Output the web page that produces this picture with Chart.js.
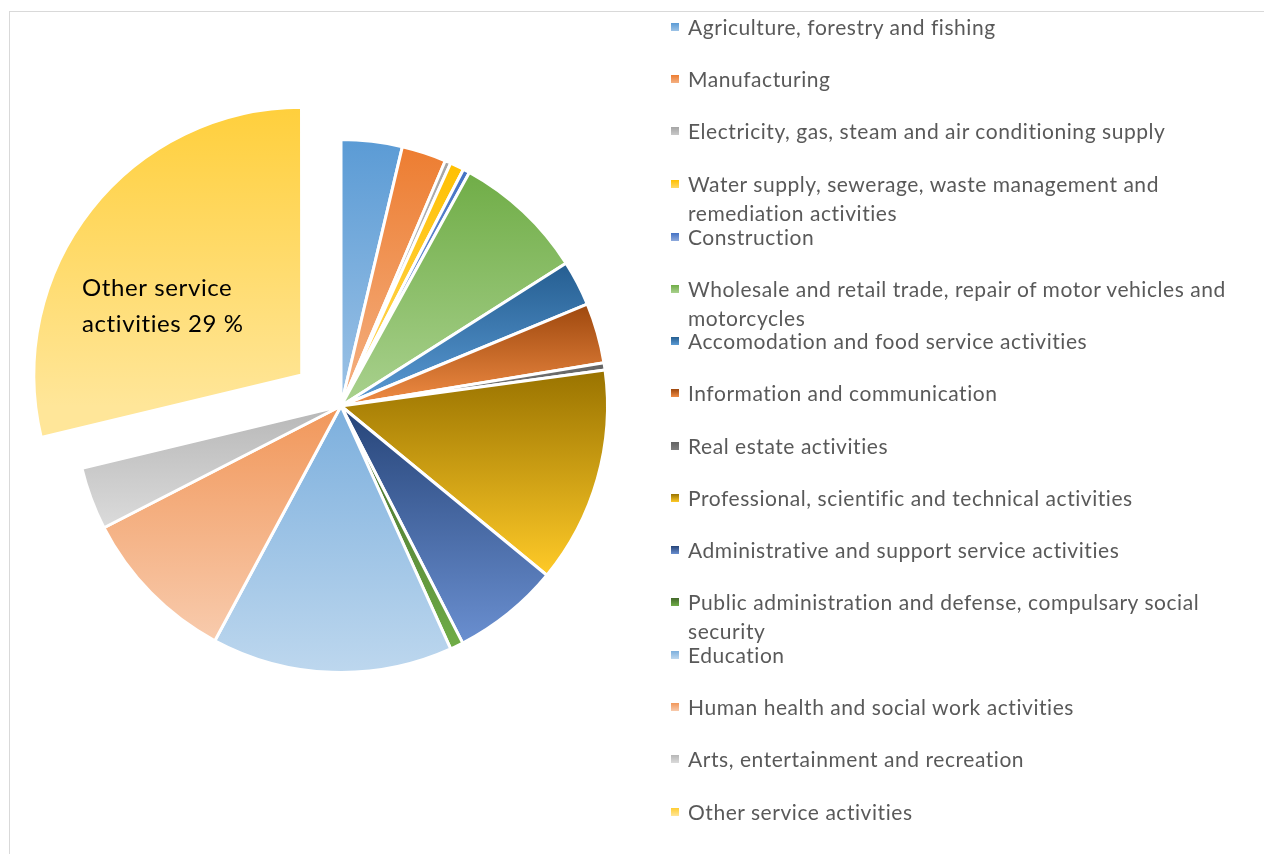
<!DOCTYPE html>
<html>
<head>
<meta charset="utf-8">
<script src="https://cdn.jsdelivr.net/npm/chart.js@4.4.1/dist/chart.umd.min.js"></script>
<style>
  body { margin: 0; background: #fff; }
  #wrap { position: relative; width: 1264px; height: 854px; overflow: hidden; }
  #frame { position: absolute; left: 9px; top: 11px; width: 1300px; height: 900px; border: 1px solid #d9d9d9; box-sizing: border-box; }
  #chart { position: absolute; left: -60px; top: 0; }
  #legend { position: absolute; left: 671px; top: 0; font-family: Lato, "Open Sans", sans-serif; font-size: 21px; letter-spacing: 0.55px; color: #595959; }
  .item { position: absolute; left: 0; width: 574px; line-height: 29px; }
  .item span.box { position: absolute; left: 0; top: 11px; width: 8px; height: 8px; }
  .item span.txt { display: block; margin-left: 17px; }
</style>
</head>
<body>
<div id="wrap">
  <div id="frame"></div>
  <canvas id="chart" width="1324" height="854"></canvas>
  <div id="legend"></div>
</div>
<script>
// Data
const categories = [
    'Agriculture, forestry and fishing',
    'Manufacturing',
    'Electricity, gas, steam and air conditioning supply',
    'Water supply, sewerage, waste management and remediation activities',
    'Construction',
    'Wholesale and retail trade, repair of motor vehicles and motorcycles',
    'Accomodation and food service activities',
    'Information and communication',
    'Real estate activities',
    'Professional, scientific and technical activities',
    'Administrative and support service activities',
    'Public administration and defense, compulsary social security',
    'Education',
    'Human health and social work activities',
    'Arts, entertainment and recreation',
    'Other service activities'
];
const shares = [3.7, 2.7, 0.35, 0.85, 0.4, 8.0, 2.75, 3.65, 0.45, 13.1, 6.5, 0.8, 14.6, 9.6, 3.8, 28.75];
const explodedIndex = 15;

// gradient colours: top (dark) -> bottom (light)
const topColors = ['#5b9bd5', '#ed7d31', '#a5a5a5', '#ffc000', '#4472c4', '#70ad47', '#255e91', '#9e480e',
    '#636363', '#997300', '#264478', '#43682b', '#7cafdd', '#f1975a', '#b7b7b7', '#ffcd33'];
const bottomColors = ['#9dc3e6', '#f4b183', '#c9c9c9', '#ffd966', '#8faadc', '#a9d18e', '#5b9bd5', '#f08c44',
    '#7f7f7f', '#ffca28', '#6a8fd0', '#70ad47', '#bdd7ee', '#f8cbad', '#dbdbdb', '#ffe699'];

const BORDER = 3;
const SHIFT = 50;            // px the slice is pulled out
const OFFSET = SHIFT * 4;    // chart.js draws offset / 4

// vertical extent of one slice so each gets its own gradient
function sliceGradient(context) {
    const chart = context.chart;
    const area = chart.chartArea;
    const i = context.dataIndex;
    if (!area) return topColors[i];
    const total = shares.reduce((a, b) => a + b, 0);
    let start = 0;
    for (let k = 0; k < i; k++) start += shares[k] / total * 360;
    const end = start + shares[i] / total * 360;
    const r = (Math.min(area.width, area.height) - BORDER - OFFSET) / 2;
    let cy = (area.top + area.bottom) / 2;
    if (i === explodedIndex) {
        const mid = (start + end) / 2 * Math.PI / 180;
        cy -= Math.cos(mid) * SHIFT;
    }
    const ys = [cy];
    [start, end].forEach(a => ys.push(cy - r * Math.cos(a * Math.PI / 180)));
    if (start <= 0 || end >= 360) ys.push(cy - r);
    if (start <= 180 && end >= 180) ys.push(cy + r);
    const y0 = Math.min(...ys), y1 = Math.max(...ys);
    const g = chart.ctx.createLinearGradient(0, y0, 0, y1 + 0.01);
    g.addColorStop(0, topColors[i]);
    g.addColorStop(1, bottomColors[i]);
    return g;
}

// label inside the exploded slice
const sliceLabel = {
    id: 'sliceLabel',
    afterDatasetsDraw(chart) {
        const ctx = chart.ctx;
        const area = chart.chartArea;
        const cx = (area.left + area.right) / 2;
        const cy = (area.top + area.bottom) / 2;
        const total = shares.reduce((a, b) => a + b, 0);
        const pct = Math.round(shares[explodedIndex] / total * 100);
        ctx.save();
        ctx.fillStyle = '#000';
        ctx.font = '24px Lato, "Open Sans", sans-serif';
        ctx.letterSpacing = '0.6px';
        ctx.textBaseline = 'middle';
        ctx.fillText('Other service', cx - 259, cy - 118);
        ctx.fillText('activities ' + pct + ' %', cx - 259, cy - 82);
        ctx.restore();
    }
};

// pie centre ends up at (341, 406) on the page
const ctx = document.getElementById('chart').getContext('2d');
const half = 368;
const pieChart = new Chart(ctx, {
    type: 'pie',
    data: {
        labels: categories,
        datasets: [{
            data: shares,
            backgroundColor: sliceGradient,
            borderColor: '#ffffff',
            borderWidth: BORDER,
            hoverOffset: 0,
            offset: shares.map((v, i) => i === explodedIndex ? OFFSET : 0)
        }]
    },
    options: {
        responsive: false,
        animation: false,
        layout: { padding: { left: 401 - half, top: 406 - half, right: 1324 - 401 - half, bottom: 854 - 406 - half } },
        plugins: {
            legend: { display: false },
            tooltip: { enabled: false }
        }
    },
    plugins: [sliceLabel]
});

// HTML legend (wraps long names like the original)
const legendTops = [12, 64, 116, 169, 222, 274, 326, 378, 431, 483, 535, 587, 640, 692, 744, 797];
const legendDiv = document.getElementById('legend');
categories.forEach((name, i) => {
    const item = document.createElement('div');
    item.className = 'item';
    item.style.top = legendTops[i] + 'px';
    item.innerHTML = '<span class="box" style="background:linear-gradient(' + topColors[i] + ',' + bottomColors[i] + ')"></span>' +
        '<span class="txt">' + name + '</span>';
    legendDiv.appendChild(item);
});
</script>
</body>
</html>
